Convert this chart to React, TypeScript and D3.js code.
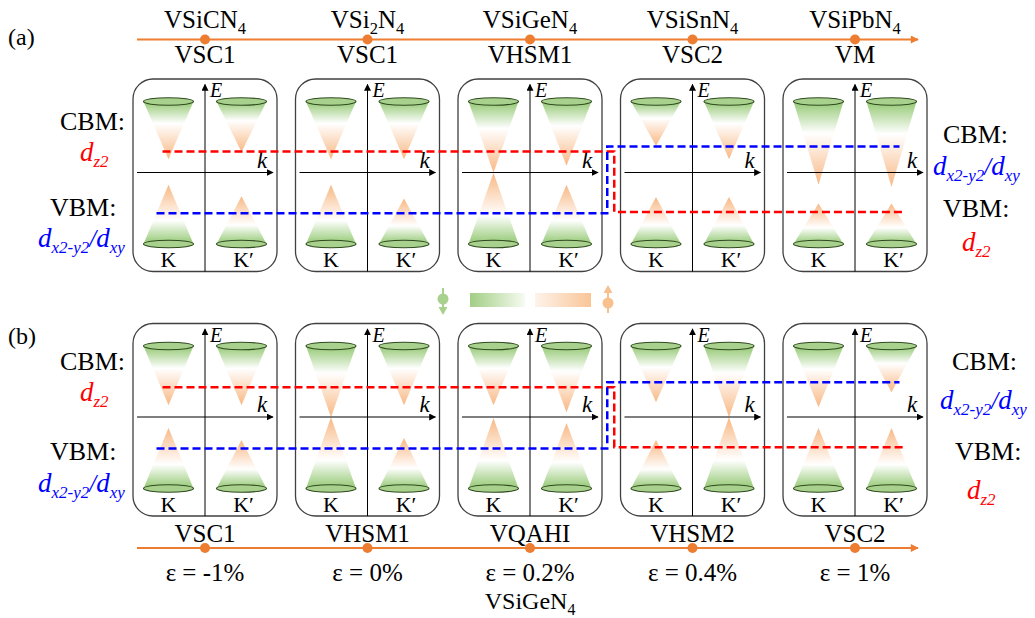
import React from "react";
import * as d3 from "d3";

// ---------- data ----------
const topCompounds = ["VSiCN_4", "VSi_2N_4", "VSiGeN_4", "VSiSnN_4", "VSiPbN_4"];
const phasesA = ["VSC1", "VSC1", "VHSM1", "VSC2", "VM"];
const phasesB = ["VSC1", "VHSM1", "VQAHI", "VHSM2", "VSC2"];
const strainLabels = ["ε = -1%", "ε = 0%", "ε = 0.2%", "ε = 0.4%", "ε = 1%"];
const strainCompound = "VSiGeN_4";
const valleyLabels = ["K", "K\u2032"];

// band-edge energies (arb. units; k-axis = 0, cone bases = ±1)
const cbmKA = [0.19, 0.19, 0.0, 0.38, -0.17];
const cbmKpA = [0.29, 0.19, 0.1, 0.19, -0.2];
const vbmKA = [-0.17, -0.17, 0.0, -0.34, -0.43];
const vbmKpA = [-0.33, -0.36, -0.17, -0.34, -0.43];
const cbmKB = [0.17, 0.0, 0.17, 0.21, 0.14];
const cbmKpB = [0.17, 0.17, 0.07, 0.0, 0.35];
const vbmKB = [-0.15, 0.0, -0.01, -0.32, -0.15];
const vbmKpB = [-0.32, -0.29, -0.08, 0.0, -0.15];

// orbital-character levels [before inversion, after inversion]
const dz2LevelA = [0.3, -0.55];
const dxyLevelA = [-0.57, 0.37];
const dz2LevelB = [0.42, -0.42];
const dxyLevelB = [-0.44, 0.49];

// ---------- helpers ----------
const FONT = "'Liberation Serif', 'Times New Roman', serif";
const xScale = d3.scaleLinear().domain([0, 4]).range([205, 855]);
const CONE_DX = 36.5;
const RX = 25;
const RY = 3.8;

function formula(s: string, size: number) {
  const parts = s.split("_");
  const out: any[] = [<tspan key="p0">{parts[0]}</tspan>];
  parts.slice(1).forEach((p, i) => {
    out.push(
      <tspan key={"s" + i} fontSize={size * 0.66} dy={size * 0.25}>
        {p[0]}
      </tspan>
    );
    if (p.length > 1)
      out.push(
        <tspan key={"n" + i} fontSize={size} dy={-size * 0.25}>
          {p.slice(1)}
        </tspan>
      );
  });
  return out;
}

function Dz2({ x, y }: { x: number; y: number }) {
  return (
    <text x={x} y={y} fill="#ff0000" fontFamily={FONT}>
      <tspan fontStyle="italic" fontSize={27}>d</tspan>
      <tspan fontStyle="italic" fontSize={17} dy={6}>z2</tspan>
    </text>
  );
}
function Dxy({ x, y }: { x: number; y: number }) {
  return (
    <text x={x} y={y} fill="#0000ff" fontFamily={FONT}>
      <tspan fontStyle="italic" fontSize={27}>d</tspan>
      <tspan fontStyle="italic" fontSize={17} dy={6}>x2-y2</tspan>
      <tspan fontStyle="italic" fontSize={25} dy={-6}>/</tspan>
      <tspan fontStyle="italic" fontSize={27}>d</tspan>
      <tspan fontStyle="italic" fontSize={17} dy={6}>xy</tspan>
    </text>
  );
}

type PanelProps = {
  axisY: number;
  cbmK: number[];
  cbmKp: number[];
  vbmK: number[];
  vbmKp: number[];
  dz2: number[];
  dxy: number[];
};

function Panel({ axisY, cbmK, cbmKp, vbmK, vbmKp, dz2, dxy }: PanelProps) {
  const y = d3.scaleLinear().domain([-1, 1]).range([axisY + 71.5, axisY - 71]);
  const boxTop = axisY - 93.5;
  const boxBot = axisY + 99;
  const jog = (xScale(2) + xScale(3)) / 2;
  const redX0 = xScale(0) - CONE_DX - 6;
  const blueX0 = xScale(0) - CONE_DX - 12;
  const redX1 = xScale(4) + CONE_DX + 13;
  const blueX1 = xScale(4) + CONE_DX + 8;
  const redPath = d3.path();
  redPath.moveTo(redX0, y(dz2[0]));
  redPath.lineTo(jog + 3, y(dz2[0]));
  redPath.lineTo(jog + 3, y(dz2[1]));
  redPath.lineTo(redX1, y(dz2[1]));
  const bluePath = d3.path();
  bluePath.moveTo(blueX0, y(dxy[0]));
  bluePath.lineTo(jog - 4, y(dxy[0]));
  bluePath.lineTo(jog - 4, y(dxy[1]));
  bluePath.lineTo(blueX1, y(dxy[1]));

  return (
    <g>
      {xScale.ticks(5).map((_, i) => {
        const cx = xScale(i);
        const cones = [
          { x: cx - CONE_DX, cb: cbmK[i], vb: vbmK[i], lab: valleyLabels[0] },
          { x: cx + CONE_DX, cb: cbmKp[i], vb: vbmKp[i], lab: valleyLabels[1] },
        ];
        return (
          <g key={i}>
            <rect
              x={cx - 72}
              y={boxTop}
              width={144}
              height={boxBot - boxTop}
              rx={20}
              ry={20}
              fill="none"
              stroke="#404040"
              strokeWidth={1.3}
            />
            {cones.map((c, j) => (
              <g key={j}>
                <path
                  d={`M${c.x - RX},${y(1)}L${c.x + RX},${y(1)}L${c.x},${y(c.cb)}Z`}
                  fill="url(#coneDown)"
                />
                <path
                  d={`M${c.x - RX},${y(-1)}L${c.x + RX},${y(-1)}L${c.x},${y(c.vb)}Z`}
                  fill="url(#coneUp)"
                />
                <ellipse cx={c.x} cy={y(1)} rx={RX} ry={RY} fill="#a9d18e" stroke="#2f4a1f" strokeWidth={1.1} />
                <ellipse cx={c.x} cy={y(-1)} rx={RX} ry={RY} fill="#a9d18e" stroke="#2f4a1f" strokeWidth={1.1} />
                <text
                  x={c.x + (j === 1 ? 2 : 0)}
                  y={boxBot - 4.5}
                  fontSize={22}
                  fontFamily={FONT}
                  textAnchor="middle"
                >
                  {c.lab}
                </text>
              </g>
            ))}
            <line x1={cx} y1={boxBot} x2={cx} y2={axisY - 88} stroke="#000" strokeWidth={1} markerEnd="url(#arrowBlack)" />
            <line x1={cx - 68} y1={axisY} x2={cx + 68} y2={axisY} stroke="#000" strokeWidth={1} markerEnd="url(#arrowBlack)" />
            <text x={cx + 5} y={axisY - 75.5} fontSize={20} fontStyle="italic" fontFamily={FONT}>E</text>
            <text x={cx + 52} y={axisY - 5} fontSize={23} fontStyle="italic" fontFamily={FONT}>k</text>
          </g>
        );
      })}
      <path d={redPath.toString()} fill="none" stroke="#ff0000" strokeWidth={2.5} strokeDasharray="8 4" />
      <path d={bluePath.toString()} fill="none" stroke="#0000ff" strokeWidth={2.5} strokeDasharray="8 4" />
    </g>
  );
}

export default function App() {
  const idx = xScale.ticks(5);
  return (
    <svg
      width={1035}
      height={618}
      style={{ position: "absolute", left: 0, top: 0, background: "#fff" }}
      fontFamily={FONT}
    >
      <defs>
        <linearGradient id="coneDown" x1="0" y1="0" x2="0" y2="1">
          <stop offset="0" stopColor="#93c872" />
          <stop offset="0.38" stopColor="#ffffff" />
          <stop offset="1" stopColor="#f8b884" />
        </linearGradient>
        <linearGradient id="coneUp" x1="0" y1="0" x2="0" y2="1">
          <stop offset="0" stopColor="#f8b884" />
          <stop offset="0.6" stopColor="#ffffff" />
          <stop offset="1" stopColor="#93c872" />
        </linearGradient>
        <linearGradient id="legGreen" x1="0" y1="0" x2="1" y2="0">
          <stop offset="0" stopColor="#a2ce84" />
          <stop offset="1" stopColor="#f6fbf2" />
        </linearGradient>
        <linearGradient id="legOrange" x1="0" y1="0" x2="1" y2="0">
          <stop offset="0" stopColor="#fef3ea" />
          <stop offset="1" stopColor="#f9c597" />
        </linearGradient>
        <marker id="arrowBlack" viewBox="0 0 10 10" refX="9" refY="5" markerWidth="7" markerHeight="7" markerUnits="userSpaceOnUse" orient="auto">
          <path d="M0,0L10,5L0,10Z" fill="#000" />
        </marker>
        <marker id="arrowOrange" viewBox="0 0 10 10" refX="9" refY="5" markerWidth="9" markerHeight="8" markerUnits="userSpaceOnUse" orient="auto">
          <path d="M0,0L10,5L0,10Z" fill="#ed7d31" />
        </marker>
      </defs>

      {/* panel labels */}
      <text x={8} y={45} fontSize={24}>(a)</text>
      <text x={8} y={344} fontSize={24}>(b)</text>

      {/* top axis (a) */}
      <line x1={137} y1={39.5} x2={918} y2={39.5} stroke="#ed7d31" strokeWidth={2} markerEnd="url(#arrowOrange)" />
      {idx.map((i) => (
        <g key={"ta" + i}>
          <circle cx={xScale(i)} cy={39.5} r={5} fill="#ed7d31" />
          <text x={xScale(i)} y={28} fontSize={25} textAnchor="middle">
            {formula(topCompounds[i], 25)}
          </text>
          <text x={xScale(i)} y={63} fontSize={25} textAnchor="middle">
            {phasesA[i]}
          </text>
        </g>
      ))}

      {/* bottom axis (b) */}
      <line x1={137} y1={548} x2={918} y2={548} stroke="#ed7d31" strokeWidth={2} markerEnd="url(#arrowOrange)" />
      {idx.map((i) => (
        <g key={"tb" + i}>
          <text x={xScale(i)} y={542} fontSize={25} textAnchor="middle">
            {phasesB[i]}
          </text>
          <circle cx={xScale(i)} cy={548} r={5} fill="#ed7d31" />
          <text x={xScale(i)} y={581} fontSize={25} textAnchor="middle">
            {strainLabels[i]}
          </text>
        </g>
      ))}
      <text x={xScale(2)} y={609} fontSize={24} textAnchor="middle">
        {formula(strainCompound, 24)}
      </text>

      <Panel axisY={172.5} cbmK={cbmKA} cbmKp={cbmKpA} vbmK={vbmKA} vbmKp={vbmKpA} dz2={dz2LevelA} dxy={dxyLevelA} />
      <Panel axisY={417} cbmK={cbmKB} cbmKp={cbmKpB} vbmK={vbmKB} vbmKp={vbmKpB} dz2={dz2LevelB} dxy={dxyLevelB} />

      {/* side labels (a) */}
      <text x={60} y={130} fontSize={26}>CBM:</text>
      <Dz2 x={80} y={161} />
      <text x={50} y={216} fontSize={26}>VBM:</text>
      <Dxy x={38} y={247} />
      <text x={943} y={143} fontSize={26}>CBM:</text>
      <Dxy x={933} y={175} />
      <text x={943} y={217} fontSize={26}>VBM:</text>
      <Dz2 x={962} y={251} />

      {/* side labels (b) */}
      <text x={60} y={370} fontSize={26}>CBM:</text>
      <Dz2 x={80} y={401} />
      <text x={50} y={460} fontSize={26}>VBM:</text>
      <Dxy x={38} y={492} />
      <text x={952} y={370} fontSize={26}>CBM:</text>
      <Dxy x={940} y={409} />
      <text x={955} y={460} fontSize={26}>VBM:</text>
      <Dz2 x={967} y={499} />

      {/* legend */}
      <g>
        <line x1={443} y1={288} x2={443} y2={308} stroke="#a9d18e" strokeWidth={2} />
        <circle cx={443} cy={299} r={5.5} fill="#a9d18e" />
        <path d="M438.5,307L447.5,307L443,315Z" fill="#a9d18e" />
        <rect x={470} y={293} width={55} height={14} fill="url(#legGreen)" />
        <rect x={535} y={293} width={56} height={14} fill="url(#legOrange)" />
        <line x1={608} y1={292} x2={608} y2={313} stroke="#f8c08f" strokeWidth={2} />
        <circle cx={608} cy={303} r={5.5} fill="#f8c08f" />
        <path d="M603.5,293L612.5,293L608,285Z" fill="#f8c08f" />
      </g>
    </svg>
  );
}
